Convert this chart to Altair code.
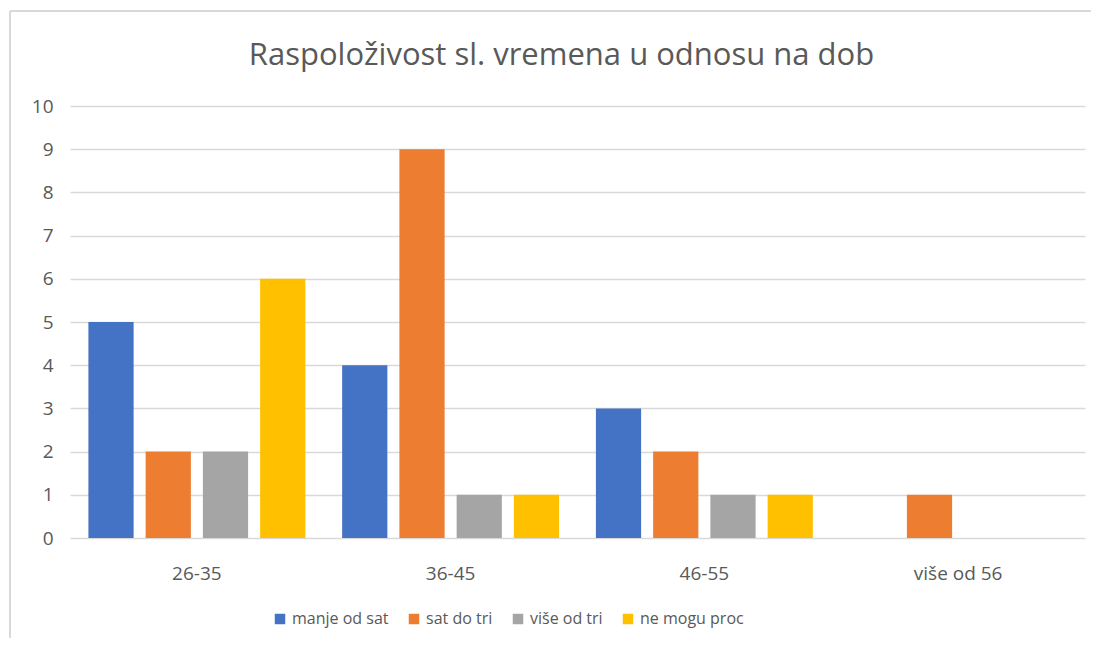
import altair as alt
import pandas as pd

categories = ["26-35", "36-45", "46-55", "više od 56"]
series = ["manje od sat", "sat do tri", "više od tri", "ne mogu proc"]
colors = ["#4472C4", "#ED7D31", "#A5A5A5", "#FFC000"]
manje_od_sat = [5, 4, 3, 0]
sat_do_tri = [2, 9, 2, 1]
vise_od_tri = [2, 1, 1, 0]
ne_mogu_proc = [6, 1, 1, 0]
y_ticks = [0, 1, 2, 3, 4, 5, 6, 7, 8, 9, 10]
title_text = "Raspoloživost sl. vremena u odnosu na dob"

rows = []
for s, vals in zip(series, [manje_od_sat, sat_do_tri, vise_od_tri, ne_mogu_proc]):
    for c, v in zip(categories, vals):
        rows.append({"dob": c, "serija": s, "broj": v})
df = pd.DataFrame(rows)

FONT = "Open Sans"
TXT = "#595959"
GRID = "#d9d9d9"

bars = alt.Chart(df).mark_bar().encode(
    x=alt.X(
        "dob:N", sort=categories, title=None,
        scale=alt.Scale(paddingInner=0.145, paddingOuter=0.0725),
        axis=alt.Axis(labelAngle=0, domain=False, ticks=False, labelPadding=26,
                      labelFontSize=19, labelColor=TXT, labelFont=FONT, grid=False),
    ),
    xOffset=alt.XOffset("serija:N", sort=series,
                        scale=alt.Scale(paddingInner=0.21, paddingOuter=0)),
    y=alt.Y(
        "broj:Q", title=None, scale=alt.Scale(domain=[0, 10]),
        axis=alt.Axis(values=y_ticks, domain=False, ticks=False, labelPadding=17,
                      labelFontSize=19, labelColor=TXT, labelFont=FONT,
                      gridColor=GRID, gridWidth=1.5),
    ),
    color=alt.Color(
        "serija:N", sort=series, scale=alt.Scale(domain=series, range=colors),
        legend=alt.Legend(title=None, orient="none", legendX=202, legendY=505,
                          direction="horizontal", symbolType="square", symbolSize=110,
                          symbolStrokeWidth=0, labelFontSize=16, labelFont=FONT,
                          labelColor=TXT, columnPadding=17, labelOffset=4),
    ),
)

frame_left = alt.Chart(alt.Data(values=[{}])).mark_rule(color=GRID, strokeWidth=2).encode(
    x=alt.value(-60), y=alt.value(-95), y2=alt.value(600)
)
frame_top = alt.Chart(alt.Data(values=[{}])).mark_rule(color=GRID, strokeWidth=2).encode(
    x=alt.value(-60), x2=alt.value(1040), y=alt.value(-95)
)

chart = alt.layer(frame_left, frame_top, bars).properties(
    width=1015, height=432,
    autosize=alt.AutoSizeParams(type="none"),
    padding={"left": 62, "top": 98, "right": 6, "bottom": 100},
    title=alt.Title(title_text, font=FONT, fontSize=31, fontWeight="normal", color=TXT,
                    anchor="middle", frame="group", dx=-16, offset=-62),
).configure_view(stroke=None)

chart.save("out.html", embed_options={"renderer": "svg", "actions": False})
